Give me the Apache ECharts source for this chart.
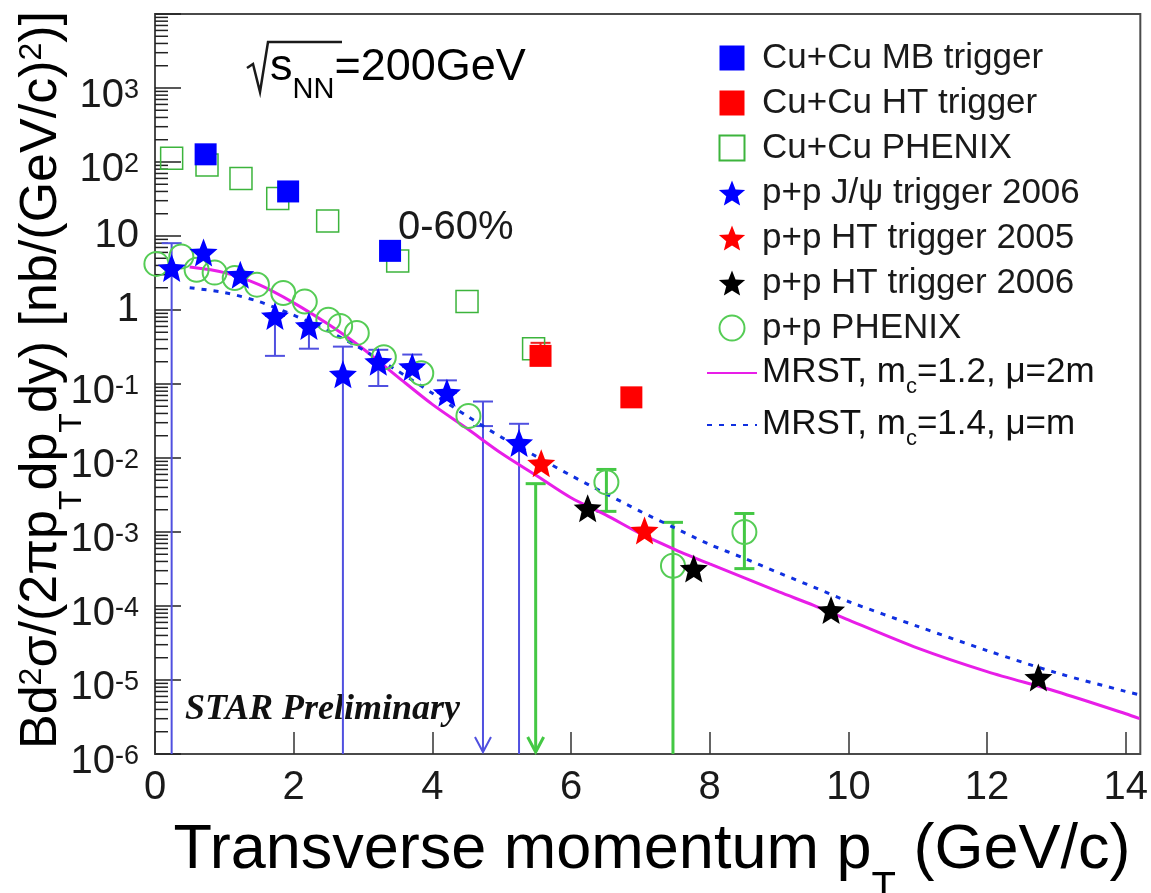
<!DOCTYPE html>
<html>
<head>
<meta charset="utf-8">
<script src="https://cdn.jsdelivr.net/npm/echarts@6/dist/echarts.min.js"></script>
<style>
  html, body { margin: 0; padding: 0; background: #fff; }
  #chart { width: 1151px; height: 893px; }
</style>
</head>
<body>
<div id="chart"></div>
<script>
// values: [pT, yield]
const cuMbData = [[0.73, 127], [1.92, 40], [3.39, 6.3]];
const cuHtData = [[5.56, 0.24], [6.87, 0.066]];
const cuPhenixData = [[0.24, 112], [0.75, 91], [1.24, 60], [1.77, 32], [2.49, 16], [3.50, 4.6], [4.50, 1.3], [5.46, 0.30]];
const jpsiData = [[0.24, 3.7], [0.70, 6.0], [1.23, 3.0], [1.73, 0.83], [2.22, 0.61], [2.71, 0.135], [3.22, 0.20], [3.71, 0.17], [4.21, 0.076], [5.25, 0.016]];
const ht2005Data = [[5.57, 0.0085], [7.06, 0.00105]];
const ht2006Data = [[6.24, 0.0021], [7.77, 3.2e-4], [9.75, 8.8e-5], [12.74, 1.08e-5]];
const ppPhenixData = [[0.02, 4.2], [0.38, 5.3], [0.60, 3.5], [0.86, 3.2], [1.15, 2.7], [1.47, 2.2], [1.85, 1.7], [2.16, 1.3],
  [2.50, 0.74], [2.67, 0.61], [2.91, 0.49], [3.30, 0.23], [3.84, 0.14], [4.52, 0.037], [6.51, 0.0047], [7.47, 3.5e-4], [8.50, 1.0e-3]];

// error bars: [pT, low, high]
const jpsiErr = [[0.24, 1e-6, 8.0], [1.73, 0.24, 0.83], [2.22, 0.30, 0.61], [2.71, 1e-6, 0.32], [3.22, 0.094, 0.29],
  [3.71, 0.17, 0.25], [4.21, 0.076, 0.112], [5.25, 1e-6, 0.029]];
const cuHtErr = [[5.56, 0.24, 0.36]];
const ppPhenixErr = [[6.51, 0.0019, 0.0070], [7.47, 1e-6, 0.00135], [8.50, 3.2e-4, 0.00178]];
// upper limits: [pT, high, central mark]
const jpsiLimit = [[4.73, 0.058, 0.027]];
const ppPhenixLimit = [[5.49, 0.0045, -1]];

// MRST curves
const mrst12 = [[0.5, 3.8], [1.0, 3.2], [1.5, 2.2], [2.0, 1.25], [2.5, 0.64], [3.0, 0.30], [3.5, 0.125], [4.0, 0.053],
  [4.5, 0.025], [5.0, 0.0115], [5.5, 0.0058], [6.0, 0.0029], [6.5, 0.0017], [7.0, 0.00095], [7.5, 0.00058], [8.0, 0.00037],
  [8.5, 0.00024], [9.0, 0.000155], [9.5, 0.000102], [10, 6.5e-5], [11, 2.7e-5], [12, 1.3e-5], [13, 7.0e-6], [14, 3.5e-6], [14.2, 3.0e-6]];
const mrst14 = [[0.5, 2.0], [1.0, 1.72], [1.5, 1.30], [2.0, 0.85], [2.5, 0.52], [3.0, 0.29], [3.5, 0.15], [4.0, 0.075],
  [4.5, 0.037], [5.0, 0.019], [5.5, 0.0105], [6.0, 0.0058], [6.5, 0.0033], [7.0, 0.0019], [7.5, 0.00113], [8.0, 0.00068],
  [8.5, 0.00044], [9.0, 0.00028], [9.5, 0.00018], [10, 1.15e-4], [11, 5.3e-5], [12, 2.5e-5], [13, 1.25e-5], [14, 7.0e-6], [14.2, 6.3e-6]];

const names = ['Cu+Cu MB trigger', 'Cu+Cu HT trigger', 'Cu+Cu PHENIX', 'p+p J/ψ trigger 2006',
  'p+p HT trigger 2005', 'p+p HT trigger 2006', 'p+p PHENIX', 'MRST, m_c=1.2, μ=2m', 'MRST, m_c=1.4, μ=m'];

const Y_MIN = 1e-6, Y_MAX = 1e4;
const font = "'Liberation Sans', Arial, sans-serif";
const star = 'path://M50,0 L62.9,32.2 L97.6,34.5 L70.9,56.8 L79.4,90.5 L50,72 L20.6,90.5 L29.1,56.8 L2.4,34.5 L37.1,32.2 Z';
const square = 'path://M0,0 L10,0 L10,10 L0,10 Z';

// minor log ticks 2..9 per decade
const minorTicks = [];
for (let e = -6; e < 4; e++) {
  for (let d = 2; d <= 9; d++) minorTicks.push([0, d * Math.pow(10, e)]);
}

const chart = echarts.init(document.getElementById('chart'));

function errBars(color, width) {
  return function (params, api) {
    const x = api.value(0);
    const lo = api.value(1), hi = api.value(2);
    const a = api.coord([x, lo]);
    const b = api.coord([x, hi]);
    const st = {stroke: color, lineWidth: width};
    const kids = [{type: 'line', shape: {x1: a[0], y1: a[1], x2: b[0], y2: b[1]}, style: st}];
    if (lo > Y_MIN) kids.push({type: 'line', shape: {x1: a[0] - 10, y1: a[1], x2: a[0] + 10, y2: a[1]}, style: st});
    kids.push({type: 'line', shape: {x1: b[0] - 10, y1: b[1], x2: b[0] + 10, y2: b[1]}, style: st});
    return {type: 'group', children: kids};
  };
}

function limitBars(color, width) {
  return function (params, api) {
    const x = api.value(0);
    const b = api.coord([x, api.value(1)]);
    const t = api.coord([x, Y_MIN]);
    const tip = t[1] - 2;
    const st = {stroke: color, lineWidth: width, fill: null};
    const kids = [
      {type: 'line', shape: {x1: b[0], y1: b[1], x2: b[0], y2: tip}, style: st},
      {type: 'line', shape: {x1: b[0] - 10, y1: b[1], x2: b[0] + 10, y2: b[1]}, style: st},
      {type: 'polyline', shape: {points: [[b[0] - 8, tip - 15], [b[0], tip], [b[0] + 8, tip - 15]]}, style: st}
    ];
    const m = api.value(2);
    if (m > 0) {
      const c = api.coord([x, m]);
      kids.push({type: 'line', shape: {x1: c[0] - 10, y1: c[1], x2: c[0] + 10, y2: c[1]}, style: st});
    }
    return {type: 'group', children: kids};
  };
}

function yLabel(v) {
  const e = Math.round(Math.log10(v));
  if (e === 4) return '';
  if (e === 0) return '{p|1}';
  if (e === 1) return '{p|10}';
  return '{b|10}{sup|' + e + '}';
}

// main text style + subscript pushed below the baseline
function richText(size, lh, subSize, subDrop, supSize) {
  return {
    a: {fontSize: size, fontFamily: font, color: '#111', lineHeight: lh, verticalAlign: 'top'},
    sub: {fontSize: subSize, fontFamily: font, color: '#111', lineHeight: 10, verticalAlign: 'top',
      padding: [lh / 2 + subDrop - 5, 0, 0, 0]},
    sup: {fontSize: supSize || subSize, fontFamily: font, color: '#111', lineHeight: 30, verticalAlign: 'top'}
  };
}

const legendData = names.map(n => n.indexOf('MRST') === 0 ? {name: n, itemStyle: {opacity: 0}} : n);

const option = {
  animation: false,
  grid: {left: 155, right: 10, top: 14, bottom: 139, show: true, borderColor: '#4a4a4a', borderWidth: 2},
  xAxis: {
    type: 'value', min: 0, max: 14.21, interval: 2,
    axisLine: {show: false},
    splitLine: {show: false},
    axisTick: {inside: true, length: 22, lineStyle: {color: '#333', width: 1.5}},
    axisLabel: {
      fontSize: 40, fontFamily: font, color: '#1a1a1a', margin: 14, showMaxLabel: false,
      formatter: v => (v % 2 === 0 && v <= 14) ? String(v) : ''
    }
  },
  yAxis: {
    type: 'log', logBase: 10, min: Y_MIN, max: Y_MAX, interval: 1,
    axisLine: {show: false},
    splitLine: {show: false},
    axisTick: {inside: true, length: 26, lineStyle: {color: '#222', width: 1.5}},
    axisLabel: {
      formatter: yLabel, margin: 16, color: '#1a1a1a', hideOverlap: false,
      rich: {
        b: {fontSize: 40, fontFamily: font, lineHeight: 42, color: '#1a1a1a', padding: [16, 0, 0, 0]},
        p: {fontSize: 40, fontFamily: font, lineHeight: 42, color: '#1a1a1a'},
        sup: {fontSize: 27, fontFamily: font, lineHeight: 28, verticalAlign: 'top', color: '#1a1a1a', padding: [10, 0, 0, 0]}
      }
    }
  },
  legend: {
    orient: 'vertical', left: 701, top: 35, itemGap: 9, itemWidth: 50, itemHeight: 25,
    selectedMode: false, data: legendData, symbolKeepAspect: true,
    formatter: n => n.indexOf('m_c') >= 0 ? '{a|' + n.replace('m_c', 'm}{sub|c}{a|') + '}' : n,
    textStyle: {
      fontSize: 35, fontFamily: font, color: '#1a1a1a', lineHeight: 36,
      rich: richText(35, 36, 22, 8)
    }
  },
  graphic: [
    {type: 'polyline', shape: {points: [[247, 68], [253, 64], [260, 92], [268, 42], [342, 42]]},
      style: {stroke: '#1a1a1a', lineWidth: 2.5, fill: null}},
    {type: 'text', x: 270, y: 70, style: {
      text: '{a|s}{sub|NN}{a|=200GeV}', verticalAlign: 'middle', align: 'left',
      rich: richText(45, 50, 29, 10)}},
    {type: 'text', x: 398, y: 228, style: {text: '0-60%', font: '40px ' + font, fill: '#1a1a1a', verticalAlign: 'middle'}},
    {type: 'text', x: 185, y: 710, style: {text: 'STAR Preliminary', font: 'italic bold 36px "Liberation Serif", serif', fill: '#111', verticalAlign: 'middle'}},
    {type: 'text', x: 652, y: 852, style: {
      text: '{a|Transverse momentum p}{sub|T}{a| (GeV/c)}', align: 'center', verticalAlign: 'middle',
      rich: richText(63, 66, 40, 22)}},
    {type: 'text', x: 45, y: 380, rotation: Math.PI / 2, style: {
      text: '{a|Bd}{sup|2}{a|σ/(2πp}{sub|T}{a|dp}{sub|T}{a|dy) [nb/(GeV/c)}{sup|2}{a|)]}', align: 'center', verticalAlign: 'middle',
      rich: richText(52, 58, 32, 16)}}
  ],
  series: [
    {type: 'custom', name: 'minor', data: minorTicks, silent: true, z: 1,
      renderItem: (params, api) => {
        const c = api.coord([api.value(0), api.value(1)]);
        return {type: 'line', shape: {x1: c[0], y1: c[1], x2: c[0] + 13, y2: c[1]}, style: {stroke: '#222', lineWidth: 1.5}};
      }},
    {type: 'custom', name: 'jpsiErr', data: jpsiErr, renderItem: errBars('#5050e0', 2), encode: {x: 0, y: [1, 2]}, z: 2, silent: true},
    {type: 'custom', name: 'jpsiLim', data: jpsiLimit, renderItem: limitBars('#5050e0', 2), encode: {x: 0, y: 1}, z: 2, silent: true},
    {type: 'custom', name: 'htErr', data: cuHtErr, renderItem: errBars('#ee2020', 2), encode: {x: 0, y: [1, 2]}, z: 2, silent: true},
    {type: 'custom', name: 'ppErr', data: ppPhenixErr, renderItem: errBars('#44c844', 3), encode: {x: 0, y: [1, 2]}, z: 2, silent: true},
    {type: 'custom', name: 'ppLim', data: ppPhenixLimit, renderItem: limitBars('#44c844', 3), encode: {x: 0, y: 1}, z: 2, silent: true},
    {type: 'line', name: names[7], data: mrst12, showSymbol: false, symbol: 'none', smooth: 0.3, z: 3,
      lineStyle: {color: '#e81ee8', width: 3}, itemStyle: {color: '#e81ee8'}},
    {type: 'line', name: names[8], data: mrst14, showSymbol: false, symbol: 'none', smooth: 0.3, z: 3,
      lineStyle: {color: '#1030e0', width: 3, type: [5, 7]}, itemStyle: {color: '#1030e0'}},
    {type: 'scatter', name: names[2], data: cuPhenixData, symbol: square, symbolSize: 22, z: 4,
      itemStyle: {color: 'rgba(0,0,0,0)', borderColor: '#3cb43c', borderWidth: 1.5, opacity: 1}},
    {type: 'scatter', name: names[6], data: ppPhenixData, symbol: 'circle', symbolSize: 24, z: 4,
      itemStyle: {color: 'rgba(0,0,0,0)', borderColor: '#55cc55', borderWidth: 2, opacity: 1}},
    {type: 'scatter', name: names[0], data: cuMbData, symbol: square, symbolSize: 22, z: 5, itemStyle: {color: '#0000ff', opacity: 1}},
    {type: 'scatter', name: names[1], data: cuHtData, symbol: square, symbolSize: 22, z: 5, itemStyle: {color: '#ff0000', opacity: 1}},
    {type: 'scatter', name: names[3], data: jpsiData, symbol: star, symbolSize: 28, z: 5, itemStyle: {color: '#0000ff', opacity: 1}},
    {type: 'scatter', name: names[4], data: ht2005Data, symbol: star, symbolSize: 28, z: 5, itemStyle: {color: '#ff0000', opacity: 1}},
    {type: 'scatter', name: names[5], data: ht2006Data, symbol: star, symbolSize: 28, z: 5, itemStyle: {color: '#000000', opacity: 1}}
  ]
};

chart.setOption(option);
</script>
</body>
</html>
